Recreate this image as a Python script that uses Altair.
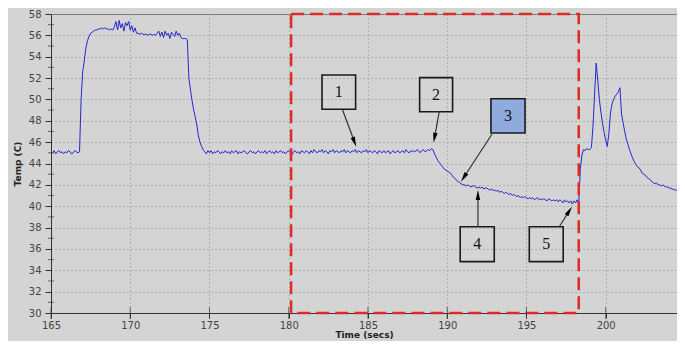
import math
import altair as alt
import pandas as pd

# ---------------- data ----------------
T_START = 165.0
T_STEP = 0.1
TEMPS = [
    45.1, 45.0, 45.2, 44.9, 45.1, 45.2, 45.0, 45.1, 44.9, 45.1,   # 165
    45.0, 45.2, 45.1, 44.9, 45.0, 45.2, 45.1, 45.0, 45.1, 50.0,   # 166
    52.6, 53.6, 54.8, 55.5, 55.9, 56.2, 56.3, 56.4, 56.5, 56.5,   # 167
    56.6, 56.6, 56.7, 56.6, 56.7, 56.6, 56.6, 56.5, 56.6, 56.5,   # 168
    56.8, 57.3, 56.5, 57.4, 56.7, 57.1, 56.4, 57.2, 56.9, 57.3,   # 169
    56.5, 56.9, 56.3, 56.7, 56.2, 56.2, 56.1, 56.2, 56.1, 56.1,   # 170
    56.1, 56.0, 56.1, 56.1, 56.0, 56.1, 56.0, 56.2, 56.4, 55.9,   # 171
    56.3, 55.8, 56.4, 56.0, 56.2, 55.7, 56.3, 56.1, 55.9, 56.4,   # 172
    56.0, 56.2, 55.8, 55.7, 55.7, 55.7, 55.6, 52.0, 50.9, 49.9,   # 173
    49.0, 48.4, 47.6, 46.6, 46.0, 45.6, 45.3, 45.1, 44.9, 45.2,   # 174
    45.0, 45.2, 44.9, 45.1, 45.0, 45.2, 45.1, 44.9, 45.1, 45.0,   # 175
    45.2, 45.0, 45.1, 44.9, 45.2, 45.0, 45.1, 45.2, 44.9, 45.1,   # 176
    45.0, 45.1, 45.2, 45.0, 44.9, 45.1, 45.2, 45.0, 45.1, 44.9,   # 177
    45.1, 45.2, 45.0, 45.1, 45.0, 45.2, 44.9, 45.1, 45.2, 45.0,   # 178
    45.1, 44.9, 45.2, 45.0, 45.1, 45.2, 45.0, 45.1, 44.9, 45.1,   # 179
    45.2, 45.0, 44.8, 45.1, 45.2, 45.0, 45.1, 44.9, 45.2, 45.1,   # 180
    45.0, 45.2, 45.1, 44.9, 45.2, 45.0, 45.3, 45.1, 45.0, 45.2,   # 181
    45.1, 45.3, 45.0, 45.2, 45.1, 44.9, 45.2, 45.1, 45.3, 45.0,   # 182
    45.2, 45.1, 45.0, 45.2, 45.1, 45.3, 45.0, 45.2, 45.1, 45.0,   # 183
    45.2, 45.1, 45.3, 45.0, 45.2, 45.1, 45.0, 45.2, 45.1, 45.3,   # 184
    45.0, 45.2, 45.1, 45.0, 45.2, 45.1, 44.9, 45.2, 45.1, 45.0,   # 185
    45.2, 45.0, 45.1, 45.2, 44.9, 45.1, 45.2, 45.0, 45.1, 45.2,   # 186
    45.0, 45.1, 45.2, 45.0, 45.3, 45.1, 45.0, 45.2, 45.1, 45.2,   # 187
    45.1, 45.3, 45.2, 45.0, 45.2, 45.3, 45.1, 45.2, 45.3, 45.2,   # 188
    45.4, 45.3, 44.9, 44.6, 44.3, 44.1, 43.9, 43.7, 43.5, 43.4,   # 189
    43.3, 43.2, 43.1, 42.9, 42.7, 42.6, 42.4, 42.3, 42.2, 42.1,   # 190
    42.0, 42.0, 41.9, 42.0, 41.9, 41.8, 41.9, 41.9, 41.8, 41.7,   # 191
    41.8, 41.7, 41.8, 41.6, 41.7, 41.7, 41.6, 41.5, 41.6, 41.5,   # 192
    41.5, 41.4, 41.5, 41.3, 41.4, 41.3, 41.2, 41.3, 41.2, 41.1,   # 193
    41.2, 41.0, 41.1, 41.0, 40.9, 41.0, 40.8, 40.9, 40.8, 40.9,   # 194
    40.8, 40.7, 40.8, 40.7, 40.8, 40.6, 40.7, 40.8, 40.6, 40.7,   # 195
    40.6, 40.7, 40.6, 40.5, 40.7, 40.6, 40.5, 40.6, 40.5, 40.6,   # 196
    40.4, 40.6, 40.5, 40.3, 40.6, 40.4, 40.5, 40.3, 40.5, 40.2,   # 197
    40.5, 40.3, 40.6, 40.3, 43.5, 44.8, 45.3, 45.2, 45.4, 45.3,   # 198
    45.3, 45.5, 47.5, 50.5, 53.4, 51.8, 50.0, 48.8, 47.8, 46.9,   # 199
    46.2, 45.6, 46.8, 48.7, 49.6, 50.0, 50.3, 50.5, 50.7, 51.1,   # 200
    48.6, 47.8, 47.0, 46.3, 45.8, 45.3, 44.9, 44.5, 44.2, 43.9,   # 201
    43.7, 43.6, 43.4, 43.1, 43.0, 42.9, 42.7, 42.6, 42.5, 42.3,   # 202
    42.2, 42.1, 42.2, 42.0, 42.0, 41.9, 42.0, 41.9, 41.8, 41.8,   # 203
    41.7, 41.7, 41.6, 41.6, 41.5, 41.5,                           # 204
]

X_DOMAIN = [165, 204.5]
Y_DOMAIN = [30, 58]
X_TICKS = [165, 170, 175, 180, 185, 190, 195, 200]
Y_TICKS = [30, 32, 34, 36, 38, 40, 42, 44, 46, 48, 50, 52, 54, 56, 58]
Y_MINOR = [31, 33, 35, 37, 39, 41, 43, 45, 47, 49, 51, 53, 55, 57]

REGION_T = [180.15, 198.3]
REGION_V = [30, 58]

BOX_LABELS = ["1", "2", "3", "4", "5"]
BOX_T0 = [182.10, 188.26, 192.76, 190.82, 195.18]
BOX_T1 = [184.22, 190.34, 194.91, 192.97, 197.32]
BOX_LO = [49.08, 48.85, 46.86, 34.81, 34.81]
BOX_HI = [52.29, 52.04, 50.07, 38.08, 38.08]
BOX_FILL = ["transparent", "transparent", "#8faadc", "transparent", "transparent"]

ARROW_T_FROM = [183.40, 189.50, 192.82, 191.94, 197.07]
ARROW_V_FROM = [49.01, 48.85, 46.74, 38.08, 38.08]
ARROW_T_TO = [184.26, 189.14, 190.87, 191.94, 197.87]
ARROW_V_TO = [45.57, 45.95, 42.30, 41.52, 39.96]

# ---------------- layout ----------------
W, H = 626, 299
PX_X = W / (X_DOMAIN[1] - X_DOMAIN[0])
PX_Y = H / (Y_DOMAIN[1] - Y_DOMAIN[0])
HEAD_HALF = 5.0  # px, half length of arrowhead

TIMES = [round(T_START + i * T_STEP, 2) for i in range(len(TEMPS))]
line_df = pd.DataFrame({"t": TIMES, "v": TEMPS})

region_df = pd.DataFrame({"t0": [REGION_T[0]], "t1": [REGION_T[1]],
                          "lo": [REGION_V[0]], "hi": [REGION_V[1]]})

box_df = pd.DataFrame({"label": BOX_LABELS, "t0": BOX_T0, "t1": BOX_T1,
                       "lo": BOX_LO, "hi": BOX_HI, "fill": BOX_FILL})
box_df["tc"] = (box_df["t0"] + box_df["t1"]) / 2
box_df["vc"] = (box_df["lo"] + box_df["hi"]) / 2

rows = []
for tf, vf, tt, vt in zip(ARROW_T_FROM, ARROW_V_FROM, ARROW_T_TO, ARROW_V_TO):
    dx = (tt - tf) * PX_X
    dy = -(vt - vf) * PX_Y
    n = math.hypot(dx, dy)
    ux, uy = dx / n, dy / n
    tc = tt - HEAD_HALF * ux / PX_X
    vc = vt + HEAD_HALF * uy / PX_Y
    ang = math.degrees(math.atan2(ux, -uy)) % 360
    rows.append({"tf": tf, "vf": vf, "tc": tc, "vc": vc, "ang": ang})
arrow_df = pd.DataFrame(rows)

xtick_df = pd.DataFrame({"t": X_TICKS, "v": [Y_DOMAIN[0]] * len(X_TICKS)})
ytick_df = pd.DataFrame({"t": [X_DOMAIN[0]] * len(Y_MINOR), "v": Y_MINOR})

FONT = "DejaVu Sans"
xscale = alt.Scale(domain=X_DOMAIN, nice=False, zero=False)
yscale = alt.Scale(domain=Y_DOMAIN, nice=False, zero=False)
xaxis = alt.Axis(values=X_TICKS, format="d", title="Time (secs)",
                 labelFont=FONT, labelFontSize=10, labelColor="#444",
                 titleFont=FONT, titleFontSize=9, titleFontWeight="bold", titleColor="#222",
                 titlePadding=0, labelPadding=2, tickSize=5, tickColor="#333",
                 domainColor="#333", grid=True, gridColor="#8a8a8a", gridDash=[1, 3],
                 labelFlush=False, labelOverlap=False)
yaxis = alt.Axis(values=Y_TICKS, format="d", title="Temp (C)",
                 labelFont=FONT, labelFontSize=10, labelColor="#444",
                 titleFont=FONT, titleFontSize=9, titleFontWeight="bold", titleColor="#222",
                 titlePadding=6, labelPadding=4, tickSize=6, tickColor="#333",
                 domainColor="#333", grid=True, gridColor="#8a8a8a", gridDash=[1, 3],
                 labelOverlap=False)


def X(field):
    return alt.X(field, type="quantitative", scale=xscale, axis=xaxis)


def Y(field):
    return alt.Y(field, type="quantitative", scale=yscale, axis=yaxis)


line = alt.Chart(line_df).mark_line(color="#2626cc", strokeWidth=1).encode(
    x=X("t"), y=Y("v"))

region = alt.Chart(region_df).mark_rect(
    fillOpacity=0, stroke="#dd2a2a", strokeWidth=2.5, strokeDash=[13, 6]
).encode(x=X("t0"), x2="t1", y=Y("lo"), y2="hi")

boxes = alt.Chart(box_df).mark_rect(stroke="#1a1a1a", strokeWidth=1.6).encode(
    x=X("t0"), x2="t1", y=Y("lo"), y2="hi",
    fill=alt.Fill("fill:N", scale=None))

labels = alt.Chart(box_df).mark_text(
    font="Liberation Serif", fontSize=16, color="#111", baseline="middle", align="center"
).encode(x=X("tc"), y=Y("vc"), text="label:N")

arrow_lines = alt.Chart(arrow_df).mark_rule(color="#333", strokeWidth=1.2).encode(
    x=X("tf"), y=Y("vf"), x2="tc", y2="vc")

arrow_heads = alt.Chart(arrow_df).mark_point(
    shape="M0,-1L0.45,1L-0.45,1Z", size=100, filled=True, color="#000", opacity=1
).encode(x=X("tc"), y=Y("vc"), angle=alt.Angle("ang:Q", scale=None))

xticks = alt.Chart(xtick_df).mark_tick(orient="vertical", size=12, color="#333", thickness=1).encode(
    x=X("t"), y=Y("v"))

yminor = alt.Chart(ytick_df).mark_tick(orient="horizontal", size=6, color="#333", thickness=1).encode(
    x=X("t"), y=Y("v"))

chart = alt.layer(line, region, boxes, labels, arrow_lines, arrow_heads, xticks, yminor).properties(
    width=W, height=H,
    autosize=alt.AutoSizeParams(type="none"),
    padding={"left": 43, "top": 6, "right": 0, "bottom": 28},
    background="#d4d4d4",
).configure_view(fill="#d4d4d4", stroke="#777", strokeWidth=1)

chart.save("out.html", embed_options={"renderer": "svg", "actions": False})
